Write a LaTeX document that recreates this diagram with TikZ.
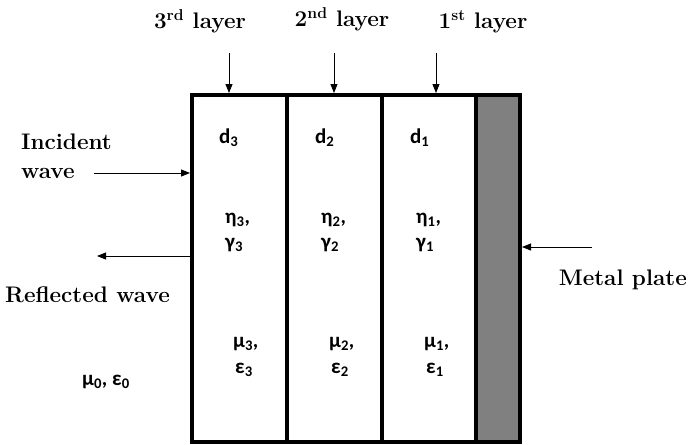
\documentclass[tikz,border=0pt]{standalone}
\usepackage{fontspec}
\newfontfamily\symfont{Carlito}
\usetikzlibrary{arrows.meta, positioning}
\definecolor{metalgray}{RGB}{128,128,128}

\begin{document}
\begin{tikzpicture}[x=1pt, y=-1pt,
    every node/.style={inner sep=0pt, anchor=base west},
    caption/.style={font=\bfseries\fontsize{22.5}{24}\selectfont},
    quantity/.style={font=\symfont\bfseries\fontsize{21}{23}\selectfont},
    wavearrow/.style={line width=0.8pt, -{Triangle[length=9pt, width=7pt]}},
    wall/.style={line width=3.5pt}]
  \useasboundingbox (0,0) rectangle (689,445);
  % metal plate and the three layers
  \fill[metalgray] (476,95) rectangle (520,442);
  \draw[wall] (192,95) rectangle (520,442);
  \foreach \xw in {287,382,476}
    \draw[wall] (\xw,95) -- (\xw,442);
  % layer captions with arrows
  \node[caption, anchor=base] (lbl3) at (200,28) {3\textsuperscript{rd} layer};
  \node[caption, anchor=base] (lbl2) at (342,26) {2\textsuperscript{nd} layer};
  \node[caption, anchor=base] (lbl1) at (483,28) {1\textsuperscript{st} layer};
  \foreach \k/\xa in {3/229, 2/334, 1/436}{
    \coordinate (from\k) at (\xa,53);
    \coordinate (to\k) at (\xa,93);
    \draw[wavearrow] (from\k) -- (to\k);
  }
  % waves
  \node[caption] (inc) at (21,149) {Incident};
  \node[caption] (incw) at (21,178) {wave};
  \coordinate (incA) at (94,173);
  \coordinate (incB) at (190,173);
  \draw[wavearrow] (incA) -- (incB);
  \coordinate (refA) at (190,256);
  \coordinate (refB) at (97,256);
  \draw[wavearrow] (refA) -- (refB);
  \node[caption] (refl) at (5,302) {Reflected wave};
  \node[quantity] (free) at (82,385) {μ\textsubscript{0}, ε\textsubscript{0}};
  % metal plate
  \coordinate (metA) at (592,247);
  \coordinate (metB) at (522,247);
  \draw[wavearrow] (metA) -- (metB);
  \node[caption, anchor=base east] (metal) at (687,285) {Metal plate};
  % layer parameters
  \foreach \k/\xl in {3/219, 2/315, 1/410}{
    \node[quantity] (d\k) at (\xl,143) {d\textsubscript{\k}};
    \node[quantity] (eta\k) at (\xl+6,223) {η\textsubscript{\k},};
    \node[quantity] (gam\k) at (\xl+6,248) {γ\textsubscript{\k}};
    \node[quantity] (mu\k) at (\xl+14,347) {μ\textsubscript{\k},};
    \node[quantity] (eps\k) at (\xl+16,373) {ε\textsubscript{\k}};
  }
\end{tikzpicture}
\end{document}
